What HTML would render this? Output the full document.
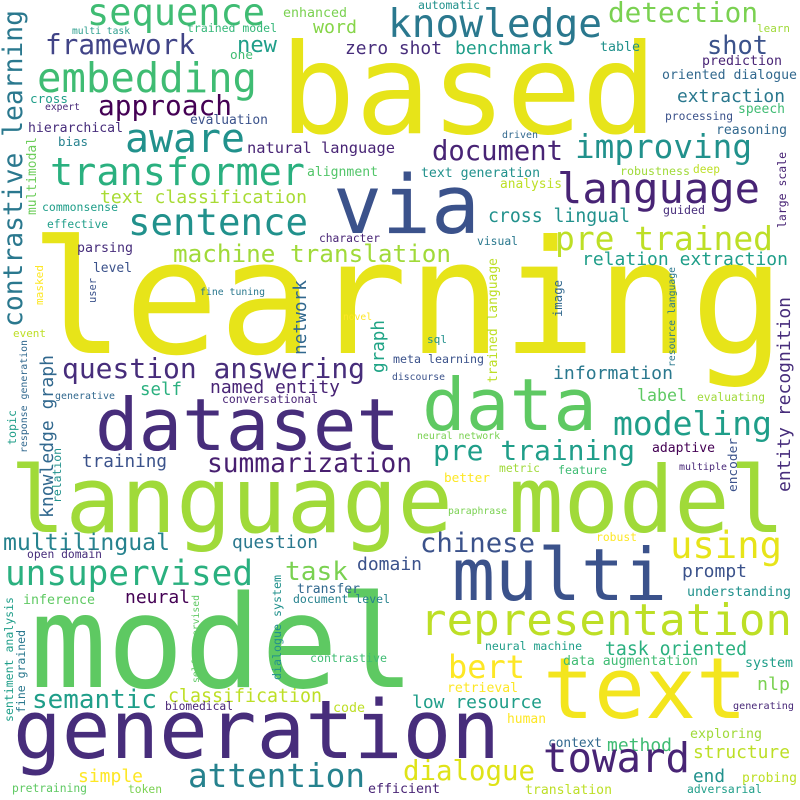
<!DOCTYPE html>
<html><head><meta charset="utf-8"><style>
html,body{margin:0;padding:0;background:#fff}
svg{display:block}
text{font-family:"DejaVu Sans Mono","Liberation Mono",monospace}
</style></head><body>
<svg id="cloud" width="800" height="800" viewBox="0 0 800 800" xmlns="http://www.w3.org/2000/svg">
<rect width="800" height="800" fill="#ffffff"/>
</svg>
<script>
// horizontal words: text, left x, baseline y, length, font size, color
const hWords = [
["learning",30,353,755,158,"#e7e419"],
["based",280,133,377,125,"#e7e419"],
["via",333,233,147,81,"#3b528b"],
["language model",10,532,775,92,"#a0da39"],
["model",30,687,385,128,"#5ec962"],
["generation",13,758,487,81,"#472d7b"],
["dataset",95,450,305,72,"#472d7b"],
["data",422,430,175,72,"#5ec962"],
["multi",452,600,215,72,"#3b528b"],
["text",543,718,204,85,"#f3e51e"],
["representation",420,635,372,44,"#bddf26"],
["sequence",87,25,178,37,"#3fbc73"],
["framework",45,54,150,28,"#414487"],
["new",237,52,40,22,"#1f9e89"],
["word",313,33,44,18,"#86d549"],
["enhanced",283,17,64,13,"#7ad151"],
["trained model",187,32,90,11.5,"#35b779"],
["multi task",72,34,58,9.7,"#2a9d8c"],
["zero shot",345,54,97,18,"#472d7b"],
["one",230,59,23,12.8,"#3fbc73"],
["embedding",37,92,220,40.6,"#3fbc73"],
["cross",30,103,38,12.7,"#1f9e89"],
["expert",45,110,35,9.7,"#482878"],
["approach",98,115,134,28,"#440154"],
["evaluation",190,124,78,13,"#3b528b"],
["hierarchical",28,132,95,13.2,"#472d7b"],
["bias",58,146,30,12.5,"#26828e"],
["aware",125,152,120,40,"#21918c"],
["natural language",247,153,148,15.4,"#482475"],
["transformer",50,185,255,38.6,"#2ab07f"],
["alignment",307,176,71,13,"#52c569"],
["text classification",100,203,207,18.1,"#a8db34"],
["commonsense",42,211,76,11.5,"#1f9e89"],
["effective",47,228,61,11.3,"#1f9e89"],
["sentence",128,235,180,37.5,"#21918c"],
["machine translation",173,262,278,24.3,"#a0da39"],
["character",319,242,61,11.3,"#482475"],
["parsing",77,252,56,13.3,"#472d7b"],
["level",93,272,39,13,"#3b528b"],
["fine tuning",200,295,65,9.8,"#2a788e"],
["novel",343,320,29,9.7,"#fde725"],
["event",13,337,33,11,"#bddf26"],
["question answering",62,378,303,28,"#472d7b"],
["self",140,395,42,17.5,"#2ab07f"],
["named entity",210,393,130,18,"#482475"],
["generative",55,399,60,10,"#31688e"],
["conversational",222,403,96,11.4,"#482475"],
["training",82,467,85,17.7,"#3b528b"],
["summarization",207,472,205,26.3,"#481f70"],
["multilingual",3,550,167,23,"#26828e"],
["question",232,548,86,18,"#2a788e"],
["open domain",27,558,75,11.4,"#472d7b"],
["unsupervised",5,585,248,34.4,"#2ab07f"],
["task",285,580,63,26,"#7ad151"],
["domain",357,570,65,18,"#3b528b"],
["neural",125,603,65,18,"#440154"],
["inference",23,604,72,13.3,"#5ec962"],
["transfer",297,593,63,13,"#31688e"],
["document level",293,603,97,11.5,"#26828e"],
["contrastive",310,662,77,11.7,"#3fbc73"],
["semantic",32,708,125,26,"#1f9e89"],
["classification",168,702,154,18.3,"#bddf26"],
["biomedical",165,710,68,11.3,"#482475"],
["code",333,712,32,13.3,"#bddf26"],
["attention",188,787,177,32.7,"#26828e"],
["simple",78,782,65,18,"#fde725"],
["pretraining",12,792,75,11.4,"#5ec962"],
["token",128,793,34,11.3,"#7ad151"],
["efficient",368,793,72,13.3,"#482475"],
["automatic",418,9,62,11.4,"#21918c"],
["knowledge",388,37,214,39.5,"#2a788e"],
["detection",608,22,150,27.7,"#7ad151"],
["learn",757,32,33,11,"#a0da39"],
["benchmark",455,54,98,18,"#1f9e89"],
["table",600,51,40,13.3,"#21918c"],
["shot",707,54,61,25.5,"#3b528b"],
["prediction",702,65,80,13.3,"#482475"],
["oriented dialogue",662,79,135,13.2,"#31688e"],
["extraction",677,102,108,18,"#2a788e"],
["speech",738,113,47,13,"#3fbc73"],
["processing",665,120,68,11.3,"#3b528b"],
["reasoning",716,134,71,13.1,"#31688e"],
["driven",502,138,36,10,"#31688e"],
["document",432,160,131,27.3,"#482475"],
["improving",575,158,177,32.7,"#21918c"],
["text generation",421,177,119,13.2,"#21918c"],
["robustness",620,175,70,11.6,"#a0da39"],
["deep",693,173,27,11.3,"#bddf26"],
["analysis",500,188,62,13,"#bddf26"],
["language",557,203,203,42,"#482475"],
["cross lingual",488,222,142,18.2,"#21918c"],
["guided",663,214,42,11.6,"#472d7b"],
["visual",477,245,41,11.4,"#2a788e"],
["pre trained",555,250,218,33,"#bddf26"],
["relation extraction",582,265,206,18,"#1f9e89"],
["sql",427,343,20,11,"#21918c"],
["meta learning",393,363,91,11.7,"#3b528b"],
["discourse",392,380,53,9.8,"#3b528b"],
["information",553,379,120,18,"#2a788e"],
["label",637,401,50,16.7,"#5ec962"],
["evaluating",697,401,68,11.3,"#a0da39"],
["modeling",613,435,159,33,"#1f9e89"],
["neural network",417,439,83,9.9,"#7ad151"],
["pre training",433,460,202,28,"#1f9e89"],
["adaptive",652,452,63,13,"#440154"],
["multiple",679,470,48,10,"#482878"],
["metric",499,472,41,11.4,"#a0da39"],
["feature",558,474,49,11.6,"#3fbc73"],
["better",444,482,46,12.7,"#fde725"],
["paraphrase",448,514,59,9.8,"#7ad151"],
["robust",596,541,41,11.4,"#fde725"],
["chinese",420,552,115,27,"#3b528b"],
["using",670,558,112,37,"#e7e419"],
["prompt",682,577,65,18,"#3b528b"],
["understanding",687,596,104,13.3,"#21918c"],
["neural machine",485,650,97,11.5,"#1f9e89"],
["task oriented",605,655,142,18.2,"#2ab07f"],
["bert",448,678,77,32,"#fde725"],
["data augmentation",563,665,135,13.2,"#3fbc73"],
["system",745,667,48,13.3,"#1f9e89"],
["retrieval",447,692,71,13.1,"#fde725"],
["nlp",757,690,33,18,"#7ad151"],
["low resource",412,708,130,18,"#1f9e89"],
["generating",733,709,61,10,"#482878"],
["human",507,723,39,13,"#fde725"],
["exploring",690,738,72,13.3,"#a0da39"],
["context",548,747,54,13,"#31688e"],
["method",607,751,65,18,"#3fbc73"],
["structure",693,758,97,18,"#bddf26"],
["toward",543,772,147,40.8,"#482475"],
["dialogue",403,780,132,27.5,"#dfe318"],
["end",693,782,32,18,"#21918c"],
["probing",742,782,55,13,"#bddf26"],
["translation",525,794,87,13.2,"#bddf26"],
["adversarial",687,793,75,11.4,"#1f9e89"]
];
// vertical words (read upward): text, baseline x, bottom y, length, font size, color
const vWords = [
["contrastive learning",22,327,317,26.3,"#2a788e"],
["multimodal",36,215,78,13,"#6ccd5a"],
["masked",43,305,40,11,"#fde725"],
["user",96,303,25,10.4,"#3b528b"],
["network",306,355,75,17.8,"#31688e"],
["graph",384,373,53,17.7,"#20a486"],
["knowledge graph",53,518,163,18,"#31688e"],
["response generation",27,453,113,9.9,"#31688e"],
["sentiment analysis",13,722,125,11.6,"#1f9e89"],
["fine grained",25,713,83,11.5,"#2a788e"],
["topic",16,445,35,11.7,"#1f9e89"],
["relation",61,503,55,11.5,"#21918c"],
["self supervised",199,683,88,9.8,"#5ec962"],
["dialogue system",281,680,105,11.7,"#21918c"],
["large scale",786,228,76,11.5,"#482475"],
["entity recognition",790,492,195,18,"#472d7b"],
["trained language",497,383,125,13,"#bddf26"],
["image",562,317,37,12.3,"#31688e"],
["resource language",675,367,100,9.8,"#2a788e"],
["encoder",737,492,54,12.8,"#3b528b"]
];
const NS = "http://www.w3.org/2000/svg";
const svg = document.getElementById("cloud");
function slug(s){return "word-" + s.replace(/\s+/g,"-");}
hWords.forEach(function(w){
  const t = document.createElementNS(NS,"text");
  t.setAttribute("x", w[1]);
  t.setAttribute("y", w[2]);
  t.setAttribute("font-size", w[4]);
  t.setAttribute("textLength", w[3]);
  t.setAttribute("lengthAdjust", "spacingAndGlyphs");
  t.setAttribute("fill", w[5]);
  
  
  t.textContent = w[0];
  svg.appendChild(t);
});
vWords.forEach(function(w){
  const t = document.createElementNS(NS,"text");
  t.setAttribute("x", 0);
  t.setAttribute("y", 0);
  t.setAttribute("transform", "translate(" + w[1] + "," + w[2] + ") rotate(-90)");
  t.setAttribute("font-size", w[4]);
  t.setAttribute("textLength", w[3]);
  t.setAttribute("lengthAdjust", "spacingAndGlyphs");
  t.setAttribute("fill", w[5]);
  
  
  t.textContent = w[0];
  svg.appendChild(t);
});
</script>
</body></html>
